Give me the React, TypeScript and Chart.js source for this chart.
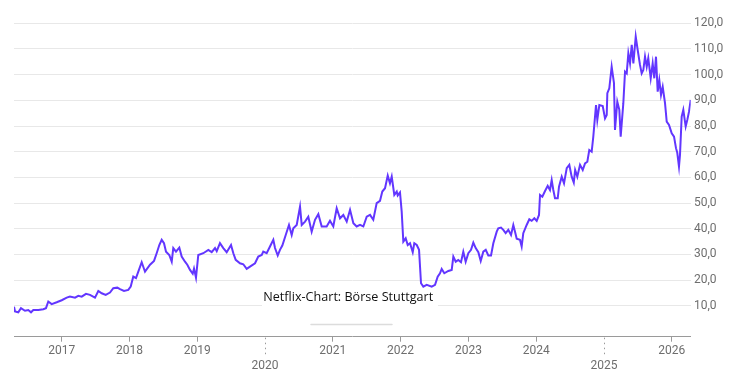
import React, { useEffect, useRef } from "react";
import { Chart, registerables } from "chart.js";

Chart.register(...registerables);

// Netflix share price (EUR), decimal years
const years = [
  2016.296, 2016.311, 2016.359, 2016.399, 2016.458, 2016.507, 2016.547, 2016.581, 2016.655, 2016.728,
  2016.768, 2016.802, 2016.852, 2016.926, 2017.0, 2017.074, 2017.122, 2017.196, 2017.245, 2017.295,
  2017.358, 2017.417, 2017.491, 2017.54, 2017.59, 2017.649, 2017.712, 2017.761, 2017.82, 2017.86,
  2017.919, 2017.982, 2018.018, 2018.056, 2018.096, 2018.13, 2018.18, 2018.229, 2018.303, 2018.362,
  2018.401, 2018.44, 2018.475, 2018.509, 2018.539, 2018.587, 2018.623, 2018.646, 2018.686, 2018.735,
  2018.77, 2018.819, 2018.853, 2018.893, 2018.933, 2018.952, 2018.981, 2019.015, 2019.089, 2019.163,
  2019.213, 2019.262, 2019.287, 2019.335, 2019.384, 2019.434, 2019.498, 2019.532, 2019.567, 2019.63,
  2019.679, 2019.729, 2019.778, 2019.852, 2019.9, 2019.951, 2019.974, 2020.024, 2020.073, 2020.122,
  2020.147, 2020.187, 2020.22, 2020.255, 2020.305, 2020.353, 2020.393, 2020.417, 2020.467, 2020.516,
  2020.541, 2020.59, 2020.638, 2020.688, 2020.737, 2020.786, 2020.836, 2020.909, 2020.958, 2021.007,
  2021.057, 2021.106, 2021.155, 2021.205, 2021.254, 2021.303, 2021.352, 2021.401, 2021.45, 2021.5,
  2021.549, 2021.597, 2021.647, 2021.696, 2021.73, 2021.77, 2021.81, 2021.843, 2021.869, 2021.907,
  2021.943, 2021.957, 2021.991, 2022.016, 2022.04, 2022.075, 2022.105, 2022.139, 2022.179, 2022.202,
  2022.238, 2022.272, 2022.301, 2022.335, 2022.385, 2022.459, 2022.508, 2022.547, 2022.581, 2022.606,
  2022.645, 2022.704, 2022.754, 2022.778, 2022.813, 2022.851, 2022.891, 2022.925, 2022.96, 2022.999,
  2023.039, 2023.073, 2023.108, 2023.147, 2023.182, 2023.22, 2023.256, 2023.294, 2023.334, 2023.368,
  2023.418, 2023.441, 2023.481, 2023.515, 2023.55, 2023.589, 2023.629, 2023.663, 2023.688, 2023.713,
  2023.761, 2023.786, 2023.81, 2023.86, 2023.899, 2023.934, 2023.973, 2024.008, 2024.042, 2024.057,
  2024.091, 2024.131, 2024.17, 2024.204, 2024.229, 2024.253, 2024.278, 2024.318, 2024.337, 2024.377,
  2024.411, 2024.451, 2024.489, 2024.524, 2024.555, 2024.575, 2024.607, 2024.647, 2024.687, 2024.721,
  2024.755, 2024.784, 2024.819, 2024.843, 2024.883, 2024.902, 2024.932, 2024.982, 2025.016, 2025.041,
  2025.05, 2025.079, 2025.114, 2025.148, 2025.163, 2025.197, 2025.227, 2025.247, 2025.286, 2025.311,
  2025.336, 2025.36, 2025.385, 2025.41, 2025.434, 2025.469, 2025.498, 2025.532, 2025.557, 2025.581,
  2025.606, 2025.631, 2025.654, 2025.69, 2025.719, 2025.743, 2025.768, 2025.793, 2025.817, 2025.842,
  2025.867, 2025.901, 2025.926, 2025.96, 2026.0, 2026.034, 2026.063, 2026.082, 2026.107, 2026.122,
  2026.147, 2026.171, 2026.206, 2026.23, 2026.255, 2026.28,
];

const prices = [
  9.7, 7.8, 7.5, 9.1, 8.1, 8.4, 7.5, 8.4, 8.4, 8.7,
  9.1, 11.7, 10.7, 11.4, 12.2, 13.2, 13.6, 13.2, 13.9, 13.6,
  14.7, 14.3, 13.2, 15.8, 14.9, 14.3, 15.2, 16.9, 17.1, 16.5,
  15.8, 16.2, 17.5, 21.4, 20.8, 23.3, 27.0, 23.3, 26.0, 27.5,
  30.5, 33.7, 35.7, 34.4, 31.1, 29.8, 27.2, 32.5, 31.1, 32.7,
  29.2, 27.2, 26.0, 24.0, 22.5, 24.5, 21.0, 29.8, 30.5, 31.8,
  30.9, 32.5, 31.3, 34.4, 32.5, 30.9, 33.7, 30.5, 27.9, 26.6,
  26.2, 24.4, 25.3, 26.6, 29.2, 29.8, 31.1, 30.5, 33.1, 35.7,
  32.5, 29.6, 31.8, 33.5, 37.6, 41.5, 37.6, 40.2, 41.5, 48.6,
  41.5, 42.8, 44.7, 38.9, 43.5, 45.7, 40.9, 40.9, 43.1, 40.9,
  48.0, 44.1, 45.4, 42.8, 47.4, 42.2, 40.9, 41.5, 40.9, 44.7,
  45.4, 43.5, 50.0, 50.9, 54.5, 55.8, 60.7, 57.7, 60.3, 53.2,
  54.5, 53.0, 54.2, 46.7, 35.0, 36.3, 33.7, 34.4, 30.9, 34.4,
  33.7, 31.8, 18.8, 17.5, 18.2, 17.5, 18.2, 21.4, 22.7, 24.4,
  22.7, 23.6, 24.0, 29.2, 27.2, 27.9, 27.0, 31.1, 27.2, 30.5,
  31.8, 34.6, 32.5, 30.9, 27.5, 31.1, 31.8, 29.6, 29.6, 34.4,
  38.9, 40.2, 40.5, 39.6, 38.3, 39.6, 37.6, 41.5, 38.9, 36.1,
  35.7, 33.1, 38.3, 41.5, 43.7, 43.1, 44.1, 43.1, 45.4, 53.2,
  52.5, 54.7, 56.7, 55.1, 59.0, 55.1, 51.9, 51.9, 56.4, 60.3,
  57.7, 63.6, 64.9, 60.3, 58.0, 62.9, 60.3, 64.9, 62.9, 65.5,
  66.1, 70.7, 70.0, 75.9, 88.2, 82.4, 88.2, 87.8, 83.0, 84.3,
  92.8, 94.7, 103.1, 96.7, 78.5, 89.5, 86.3, 75.9, 88.9, 101.2,
  100.5, 108.3, 104.4, 111.6, 104.4, 114.8, 109.6, 103.8, 100.5, 101.8,
  107.0, 103.1, 106.4, 98.6, 104.4, 98.6, 107.0, 93.4, 97.9, 92.1,
  95.3, 88.9, 81.7, 80.4, 77.2, 75.9, 71.4, 69.6, 64.2, 68.8,
  83.7, 86.3, 79.8, 82.4, 85.6, 90.2,
];

const yearTicks = [2017, 2018, 2019, 2020, 2021, 2022, 2023, 2024, 2025, 2026];
const lowerRowYears = [2020, 2025];
const priceTicks = [10, 20, 30, 40, 50, 60, 70, 80, 90, 100, 110, 120];
const sourceLabel = "Netflix-Chart: Börse Stuttgart";

const AXIS_GRAY = "#9a9a9a";
const LABEL_GRAY = "#6e6e6e";
const LINE_COLOR = "#6236ff";

const overlayPlugin = {
  id: "overlay",
  afterDraw(chart: any) {
    const ctx = chart.ctx;
    const xs = chart.scales.x;
    const ys = chart.scales.y;
    ctx.save();
    // dotted long ticks for lower-row years
    ctx.strokeStyle = AXIS_GRAY;
    ctx.lineWidth = 1;
    ctx.setLineDash([1.5, 3.5]);
    lowerRowYears.forEach((yr) => {
      const px = Math.round(xs.getPixelForValue(yr)) + 0.5;
      ctx.beginPath();
      ctx.moveTo(px, ys.bottom + 1);
      ctx.lineTo(px, ys.bottom + 20);
      ctx.stroke();
    });
    ctx.setLineDash([]);
    // source label box
    ctx.fillStyle = "#ffffff";
    ctx.fillRect(262, 288, 176, 33);
    ctx.fillStyle = "#111111";
    ctx.font = "12.6px 'Open Sans', sans-serif";
    ctx.textAlign = "left";
    ctx.textBaseline = "alphabetic";
    ctx.fillText(sourceLabel, 263.3, 300.7);
    ctx.strokeStyle = "#dcdcdc";
    ctx.lineWidth = 1.5;
    ctx.lineCap = "round";
    ctx.beginPath();
    ctx.moveTo(311, 324.5);
    ctx.lineTo(392, 324.5);
    ctx.stroke();
    ctx.restore();
  },
};

export default function App() {
  const canvasRef = useRef<HTMLCanvasElement | null>(null);

  useEffect(() => {
    document.body.style.margin = "0";
    const canvas = canvasRef.current;
    if (!canvas) return;
    const data = years.map((x, i) => ({ x, y: prices[i] }));
    const chart = new Chart(canvas, {
      type: "line",
      data: {
        datasets: [
          {
            data,
            borderColor: LINE_COLOR,
            borderWidth: 2,
            pointRadius: 0,
            tension: 0,
            fill: false,
          },
        ],
      },
      options: {
        animation: false,
        responsive: false,
        maintainAspectRatio: false,
        layout: { padding: { left: 14, top: 23.3, right: 0, bottom: 0 } },
        plugins: {
          legend: { display: false },
          tooltip: { enabled: false },
        },
        scales: {
          x: {
            type: "linear",
            min: years[0],
            max: years[years.length - 1],
            afterBuildTicks: (s: any) => {
              s.ticks = yearTicks.map((v) => ({ value: v }));
            },
            afterFit: (s: any) => {
              s.height = 44.3;
            },
            grid: {
              drawOnChartArea: false,
              drawTicks: true,
              tickLength: 5,
              tickColor: (c: any) =>
                c.tick && lowerRowYears.includes(c.tick.value) ? "rgba(0,0,0,0)" : AXIS_GRAY,
            },
            border: { display: true, color: AXIS_GRAY, width: 1 },
            ticks: {
              autoSkip: false,
              maxRotation: 0,
              padding: 1.3,
              color: LABEL_GRAY,
              font: { family: "Roboto", size: 12, lineHeight: 1.275 },
              callback: (v: any) =>
                lowerRowYears.includes(Number(v)) ? ["", String(v)] : String(v),
            },
          },
          y: {
            type: "linear",
            position: "right",
            min: -2,
            max: 120,
            afterBuildTicks: (s: any) => {
              s.ticks = priceTicks.map((v) => ({ value: v }));
            },
            afterFit: (s: any) => {
              s.width = 54.3;
            },
            grid: { color: "#e8e8e8", lineWidth: 1, drawTicks: false },
            border: { display: false },
            ticks: {
              padding: 3.3,
              color: LABEL_GRAY,
              font: { family: "Roboto", size: 12 },
              callback: (v: any) => Number(v).toFixed(1).replace(".", ","),
            },
          },
        },
      },
      plugins: [overlayPlugin],
    });
    return () => chart.destroy();
  }, []);

  return (
    <div style={{ position: "absolute", left: 0, top: 0, width: 745, height: 381 }}>
      <canvas ref={canvasRef} width={745} height={381} style={{ display: "block" }} />
    </div>
  );
}
